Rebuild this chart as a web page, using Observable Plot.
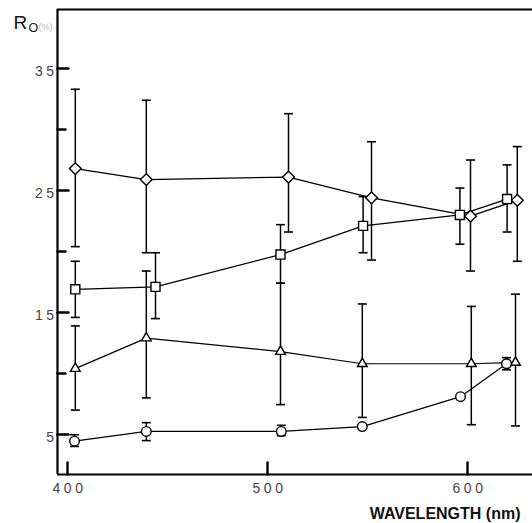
<!DOCTYPE html>
<html>
<head>
<meta charset="utf-8">
<script src="https://cdn.jsdelivr.net/npm/d3@7"></script>
<script src="https://cdn.jsdelivr.net/npm/@observablehq/plot@0.6"></script>
<style>
  body { margin: 0; background: #fff; }
  #chart svg { display: block; }
  g[aria-label$="tick label"] { fill: #444; letter-spacing: 3.5px; }
</style>
</head>
<body>
<div id="chart"></div>
<script>
// Reflectance R0 (%) against wavelength (nm): mean value and error-bar limits per series
const diamondX  = [403.9, 439.4, 510.5, 552.0, 601.5, 624.9];
const diamondY  = [26.8, 25.9, 26.1, 24.4, 22.9, 24.2];
const diamondHi = [33.3, 32.4, 31.3, 29.0, 27.5, 28.6];
const diamondLo = [20.4, 19.9, 21.6, 19.3, 18.4, 19.2];

const squareX  = [403.9, 444.0, 506.5, 547.8, 596.2, 619.8];
const squareY  = [16.9, 17.1, 19.75, 22.1, 23.0, 24.3];
const squareHi = [19.2, 19.9, 22.2, 24.5, 25.2, 27.1];
const squareLo = [14.6, 14.5, 17.4, 19.9, 20.6, 21.6];

const triangleX  = [403.9, 439.4, 506.5, 547.4, 601.9, 624.0];
const triangleY  = [10.4, 12.9, 11.8, 10.8, 10.8, 10.9];
const triangleHi = [13.9, 18.4, 17.4, 15.7, 15.5, 16.5];
const triangleLo = [7.0, 8.0, 7.45, 6.4, 5.8, 5.7];

const circleX  = [403.5, 439.4, 506.9, 547.4, 596.5, 619.5];
const circleY  = [4.45, 5.25, 5.25, 5.65, 8.1, 10.8];
const circleHi = [4.98, 5.97, 5.75, null, null, 11.3];
const circleLo = [4.02, 4.5, 4.9, null, null, 10.3];

const xTicks = [400, 500, 600];
const yTickLabels = [5, 15, 25, 35];
const yMinorTicks = [10, 20, 30];

const xDomain = [395, 632.5];
const yDomain = [1.72, 39.84];

function rows(xs, ys, his, los) {
  return xs.map((x, i) => ({x, y: ys[i], hi: his[i], lo: los[i]}));
}

const series = [
  {data: rows(diamondX, diamondY, diamondHi, diamondLo), symbol: "diamond2", r: 5.3},
  {data: rows(squareX, squareY, squareHi, squareLo), symbol: "square", r: 5.1},
  {data: rows(triangleX, triangleY, triangleHi, triangleLo), symbol: "triangle", r: 3.6},
  {data: rows(circleX, circleY, circleHi, circleLo), symbol: "circle", r: 4.8}
];

// horizontal cap drawn at the ends of each error bar
const capSymbol = {
  draw(context, size) {
    const w = Math.sqrt(size / Math.PI);
    context.moveTo(-w, 0);
    context.lineTo(w, 0);
  }
};

// inward-pointing tick stroke
const tickShape = {
  draw(context, l) {
    context.moveTo(0, 0);
    context.lineTo(0, -l);
  }
};

const marks = [];

// frame: left axis, bottom axis, top border
marks.push(Plot.ruleX([xDomain[0]], {strokeWidth: 2.2}));
marks.push(Plot.ruleY([yDomain[0]], {strokeWidth: 2.2}));
marks.push(Plot.ruleY([yDomain[1]], {strokeWidth: 2}));

// tick marks inside the frame
marks.push(Plot.vector(yTickLabels, {y: d => d, frameAnchor: "left", length: 11, rotate: 90, anchor: "start", shape: tickShape, strokeWidth: 2.4}));
marks.push(Plot.vector(yMinorTicks, {y: d => d, frameAnchor: "left", length: 8, rotate: 90, anchor: "start", shape: tickShape, strokeWidth: 2.4}));
marks.push(Plot.vector(xTicks, {x: d => d, frameAnchor: "bottom", length: 12, rotate: 0, anchor: "start", shape: tickShape, strokeWidth: 2.4}));

// tick labels
marks.push(Plot.axisX({ticks: xTicks, tickSize: 0, tickPadding: 9, fontSize: 14, dx: 2, label: null}));
marks.push(Plot.axisY({ticks: yTickLabels, tickSize: 0, tickPadding: 0, fontSize: 14, dy: 3, label: null}));

// error bars with caps
for (const s of series) {
  const withBars = s.data.filter(d => d.hi != null);
  marks.push(Plot.ruleX(withBars, {x: "x", y1: "lo", y2: "hi", strokeWidth: 1.5}));
  marks.push(Plot.dot(withBars, {x: "x", y: "hi", symbol: capSymbol, r: 4.5, fill: "none", stroke: "black", strokeWidth: 1.6}));
  marks.push(Plot.dot(withBars, {x: "x", y: "lo", symbol: capSymbol, r: 4.5, fill: "none", stroke: "black", strokeWidth: 1.6}));
}

// connecting lines
for (const s of series) {
  marks.push(Plot.line(s.data, {x: "x", y: "y", stroke: "black", strokeWidth: 1.2}));
}

// open markers
for (const s of series) {
  marks.push(Plot.dot(s.data, {x: "x", y: "y", symbol: s.symbol, r: s.r, fill: "white", stroke: "black", strokeWidth: 1.4}));
}

// axis titles
marks.push(Plot.text(["R"], {frameAnchor: "top-left", textAnchor: "start", lineAnchor: "middle", dx: -44, dy: 13, fontSize: 19, fill: "#111"}));
marks.push(Plot.text(["O"], {frameAnchor: "top-left", textAnchor: "start", lineAnchor: "middle", dx: -29, dy: 18.5, fontSize: 12.5, fill: "#111"}));
marks.push(Plot.text(["(%)"], {frameAnchor: "top-left", textAnchor: "start", lineAnchor: "middle", dx: -19, dy: 18, fontSize: 9, fill: "#bbb"}));
marks.push(Plot.text(["WAVELENGTH (nm)"], {frameAnchor: "bottom-right", textAnchor: "end", lineAnchor: "middle", dx: -12, dy: 39, fontSize: 16, fontWeight: "bold", fill: "#111"}));

const chart = Plot.plot({
  width: 532,
  height: 523,
  marginLeft: 57,
  marginRight: 0,
  marginTop: 9,
  marginBottom: 49,
  style: {fontFamily: "'Liberation Sans', Arial, sans-serif", background: "white"},
  x: {domain: xDomain},
  y: {domain: yDomain},
  marks
});

document.getElementById("chart").appendChild(chart);
</script>
</body>
</html>
